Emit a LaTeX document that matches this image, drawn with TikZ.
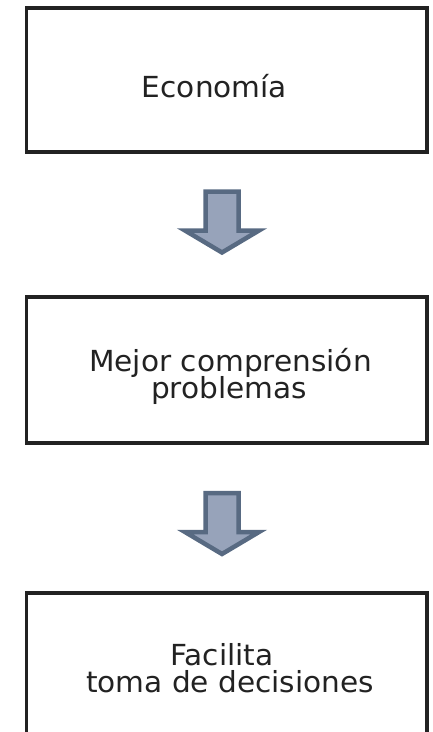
\documentclass[tikz,border=0pt]{standalone}
\usepackage{fontspec}
\setmainfont[FakeStretch=1.02]{DejaVu Sans}
\definecolor{boxline}{HTML}{222222}
\definecolor{arrfill}{HTML}{97A3BA}
\definecolor{arrline}{HTML}{586A82}
\definecolor{txt}{HTML}{222222}
\tikzset{
  box/.style={draw=boxline, line width=3.5pt, inner sep=0pt, minimum width=400.5pt},
  lbl/.style={anchor=base, inner sep=0pt, font=\fontsize{29}{27}\selectfont, text=txt},
  blockarrow/.style={draw=arrline, fill=arrfill, line width=4.5pt, line join=miter}
}
\begin{document}
\begin{tikzpicture}[x=1pt,y=-1pt]
\useasboundingbox (0,0) rectangle (432,732);
\clip (0,0) rectangle (432,732);
% boxes
\node[box, minimum height=144pt] (b1) at (226.75,80) {};
\node[box, minimum height=146pt] (b2) at (226.75,370) {};
\node[box, minimum height=160pt] (b3) at (226.75,673) {};
% labels
\node[lbl] (t1) at (214.5,97.5) {Economía};
\node[lbl] (t2a) at (230.5,371) {Mejor comprensión};
\node[lbl] (t2b) at (229,398) {problemas};
\node[lbl] (t3a) at (222,665) {Facilita};
\node[lbl] (t3b) at (230,692) {toma de decisiones};
% block arrows
\draw[blockarrow] (205.5,191.5) -- (238.5,191.5) -- (238.5,230.5) -- (259,230.5)
  -- (222,252.5) -- (185,230.5) -- (205.5,230.5) -- cycle;
\draw[blockarrow] (205.5,493) -- (238.5,493) -- (238.5,532) -- (259,532)
  -- (222,554) -- (185,532) -- (205.5,532) -- cycle;
\end{tikzpicture}
\end{document}
